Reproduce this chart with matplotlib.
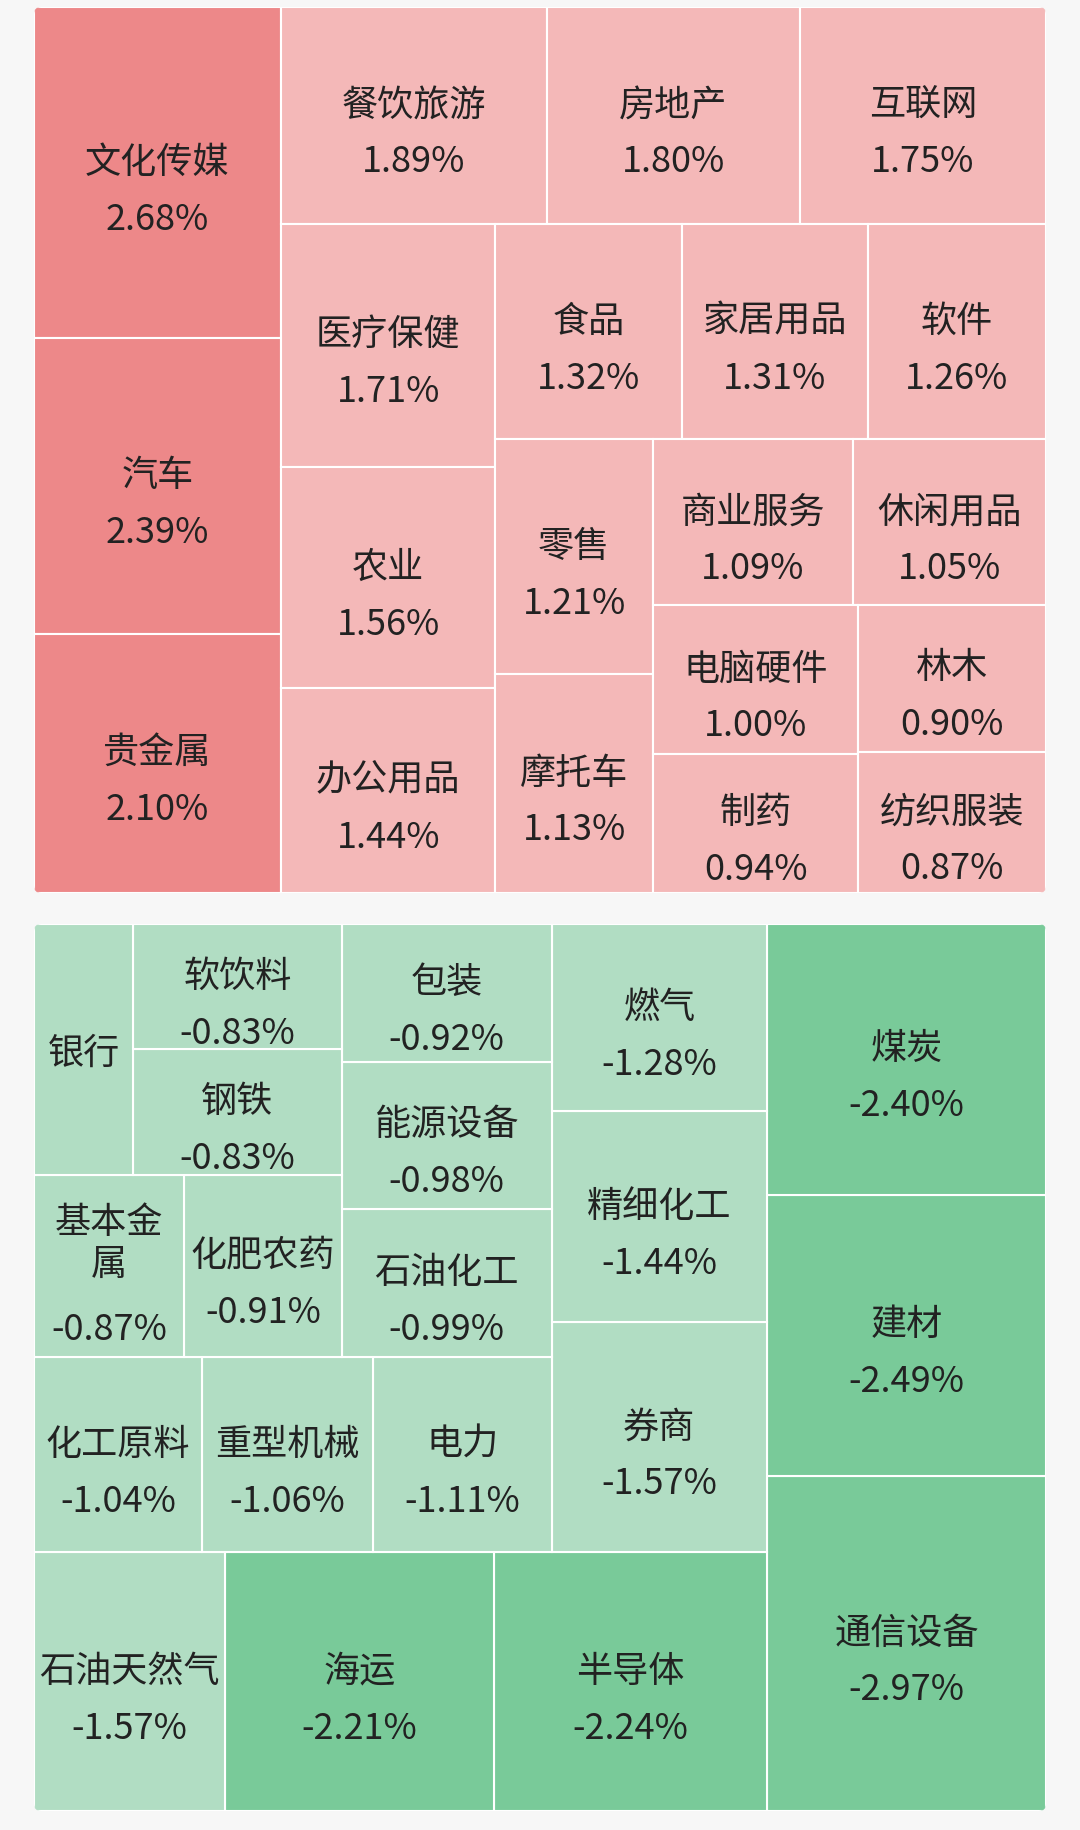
import matplotlib
matplotlib.use('Agg')
import matplotlib.pyplot as plt
from matplotlib.patches import Rectangle, FancyBboxPatch

plt.rcParams['font.family'] = ['Noto Sans CJK SC', 'DejaVu Sans']

# industries that went up (%)
up_names = ['文化传媒', '汽车', '贵金属', '餐饮旅游', '房地产', '互联网', '医疗保健',
            '农业', '办公用品', '食品', '家居用品', '软件', '零售', '摩托车',
            '商业服务', '休闲用品', '电脑硬件', '制药', '林木', '纺织服装']
up_values = [2.68, 2.39, 2.10, 1.89, 1.80, 1.75, 1.71, 1.56, 1.44, 1.32, 1.31,
             1.26, 1.21, 1.13, 1.09, 1.05, 1.00, 0.94, 0.90, 0.87]

# industries that went down (%)
down_names = ['通信设备', '建材', '煤炭', '半导体', '海运', '石油天然气', '券商',
              '精细化工', '燃气', '电力', '重型机械', '化工原料', '石油化工',
              '能源设备', '包装', '化肥农药', '基本金属', '钢铁', '软饮料', '银行']
down_values = [-2.97, -2.49, -2.40, -2.24, -2.21, -1.57, -1.57, -1.44, -1.28,
               -1.11, -1.06, -1.04, -0.99, -0.98, -0.92, -0.91, -0.87, -0.83,
               -0.83, -0.79]

W, H = 1080, 1831
BG = '#f7f7f7'
TXT = '#222222'
FS = 26          # points, ~36 px
CH = 36          # px per CJK char
RATIO = 1.02


def worst(row, side):
    s = sum(row)
    f = side * side * RATIO
    return max(f * max(row) / (s * s), s * s / (f * min(row)))


def squarify(areas, x, y, w, h):
    rects = []
    i = 0
    while i < len(areas):
        side = min(w, h)
        row = [areas[i]]
        j = i + 1
        while j < len(areas) and worst(row + [areas[j]], side) <= worst(row, side):
            row.append(areas[j])
            j += 1
        s = sum(row)
        if w > h:
            cw = s / h
            yy = y
            for a in row:
                rects.append((x, yy, cw, a / cw))
                yy += a / cw
            x += cw
            w -= cw
        else:
            rh = s / w
            xx = x
            for a in row:
                rects.append((xx, y, a / rh, rh))
                xx += a / rh
            y += rh
            h -= rh
        i = j
    return rects


def draw_block(ax, names, values, box, flip, dark, light):
    bx, by, bw, bh = box
    clip = FancyBboxPatch((bx, by), bw, bh, boxstyle='round,pad=0,rounding_size=7',
                          facecolor='none', edgecolor='none')
    ax.add_patch(clip)
    order = sorted(range(len(values)), key=lambda k: -abs(values[k]))
    total = sum(abs(v) for v in values)
    areas = [abs(values[k]) / total * bw * bh for k in order]
    rects = squarify(areas, bx, by, bw, bh)
    for k, (x, y, w, h) in zip(order, rects):
        if flip:
            x = bx + bw - (x - bx) - w
            y = by + bh - (y - by) - h
        v = values[k]
        r = Rectangle((x, y), w, h, facecolor=dark if abs(v) >= 2 else light,
                      edgecolor='white', linewidth=1.5)
        r.set_clip_path(clip)
        ax.add_patch(r)

        # label: wrap the name if it doesn't fit, drop the value if too wide
        avail = w - 10
        per = max(1, int(avail // CH))
        name = names[k]
        lines = [name[i:i + per] for i in range(0, len(name), per)]
        vs = '%.2f%%' % v
        show_val = 19 * len(vs) <= avail
        cx, cy = x + w / 2, y + h / 2 + 3
        n = len(lines)
        if show_val:
            first = cy - 14 - 33 * (n - 1)
        else:
            first = cy - 21 * (n - 1)
        for i, ln in enumerate(lines):
            ax.text(cx, first + 42 * i, ln, ha='center', va='center',
                    fontsize=FS, color=TXT)
        if show_val:
            gap = 57 if n == 1 else 65
            ax.text(cx, first + 42 * (n - 1) + gap, vs, ha='center', va='center',
                    fontsize=FS, color=TXT)


fig = plt.figure(figsize=(W / 100, H / 100), dpi=100, facecolor=BG)
ax = fig.add_axes([0, 0, 1, 1])
ax.set_xlim(0, W)
ax.set_ylim(H, 0)
ax.axis('off')

draw_block(ax, up_names, up_values, (34, 8, 1012, 886), False, '#ed8889', '#f4b8b8')
draw_block(ax, down_names, down_values, (34, 925, 1012, 887), True, '#79ca99', '#b1ddc3')

fig.savefig('out.png', dpi=100, facecolor=BG)
